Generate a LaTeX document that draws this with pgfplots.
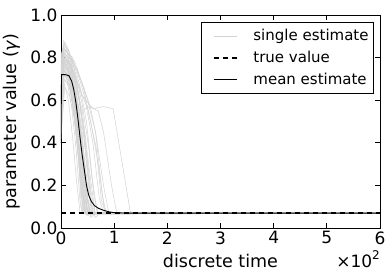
\documentclass[border=0pt]{standalone}
\usepackage{pgfplots}
\pgfplotsset{compat=1.18}
\usepackage{fontspec}
\setmainfont{DejaVu Sans}
\definecolor{lg}{RGB}{211,211,211}
\begin{document}
\begin{tikzpicture}[font=\fontsize{17.5bp}{20bp}\selectfont]
\begin{axis}[
  at={(0,0)}, anchor=south west,
  scale only axis, width=319bp, height=213bp,
  xmin=0, xmax=600, ymin=0, ymax=1,
  clip mode=individual,
  xtick={0,100,200,300,400,500,600},
  xticklabels={0,1,2,3,4,5,6},
  ytick={0,0.2,0.4,0.6,0.8,1.0},
  yticklabels={0.0,0.2,0.4,0.6,0.8,1.0},
  tick label style={font=\fontsize{17bp}{19bp}\selectfont},
  tick align=inside, major tick length=5bp,
  tick style={black, line width=0.8bp},
  axis line style={line width=0.9bp},
  xlabel={discrete time},
  ylabel={parameter value ({\itshape γ})},
  xlabel style={at={(axis description cs:0.5,0)}, anchor=base, yshift=-39bp},
  ylabel style={at={(axis description cs:-0.155,0.5)}, anchor=center},
  legend style={at={(1,1)}, anchor=north east, xshift=-6bp, yshift=-7bp,
    draw=black, line width=0.8bp, font=\fontsize{15bp}{17bp}\selectfont,
    inner xsep=3bp, inner ysep=5bp, row sep=5bp, cells={anchor=west}},
  legend image code/.code={\draw[#1] (0bp,0bp) -- (23bp,0bp); \path (-8bp,0bp) (37bp,0bp);},
  single/.style={color=lg, line width=0.5bp, forget plot},
]
\addplot[single] coordinates {(0,0.45)(4,0.78)(15,0.74)(25,0.62)(45,0.07)(52,0.06)(60,0.07)(600,0.07)};
\addplot[single] coordinates {(0,0.62)(5,0.85)(12,0.82)(22,0.70)(30,0.55)(42,0.25)(50,0.07)(600,0.07)};
\addplot[single] coordinates {(0,0.72)(3,0.80)(14,0.78)(28,0.60)(38,0.40)(48,0.10)(55,0.065)(600,0.07)};
\addplot[single] coordinates {(0,0.50)(6,0.70)(18,0.65)(30,0.45)(40,0.20)(46,0.07)(600,0.07)};
\addplot[single] coordinates {(0,0.80)(6,0.87)(16,0.80)(26,0.70)(36,0.50)(50,0.20)(58,0.07)(600,0.07)};
\addplot[single] coordinates {(0,0.58)(4,0.75)(10,0.72)(20,0.62)(32,0.35)(40,0.12)(44,0.07)(600,0.07)};
\addplot[single] coordinates {(0,0.68)(5,0.82)(20,0.75)(34,0.60)(44,0.40)(55,0.12)(62,0.06)(70,0.07)(600,0.07)};
\addplot[single] coordinates {(0,0.42)(7,0.66)(16,0.62)(28,0.48)(36,0.25)(42,0.07)(600,0.07)};
\addplot[single] coordinates {(0,0.75)(4,0.83)(12,0.80)(24,0.72)(40,0.55)(52,0.30)(64,0.07)(600,0.07)};
\addplot[single] coordinates {(0,0.55)(5,0.80)(18,0.76)(30,0.58)(42,0.30)(50,0.08)(56,0.06)(64,0.07)(600,0.07)};
\addplot[single] coordinates {(0,0.65)(4,0.77)(14,0.70)(24,0.55)(34,0.30)(38,0.10)(42,0.07)(600,0.07)};
\addplot[single] coordinates {(0,0.78)(5,0.84)(22,0.80)(36,0.66)(48,0.50)(58,0.25)(68,0.07)(600,0.07)};
\addplot[single] coordinates {(0,0.48)(6,0.72)(14,0.68)(26,0.52)(38,0.30)(46,0.09)(52,0.07)(600,0.07)};
\addplot[single] coordinates {(0,0.70)(5,0.86)(14,0.84)(28,0.72)(40,0.58)(52,0.38)(62,0.15)(70,0.07)(600,0.07)};
\addplot[single] coordinates {(0,0.60)(4,0.74)(16,0.70)(30,0.55)(46,0.20)(54,0.07)(600,0.07)};
\addplot[single] coordinates {(0,0.66)(5,0.80)(20,0.74)(40,0.62)(60,0.56)(80,0.57)(98,0.56)(112,0.35)(130,0.08)(135,0.07)(600,0.07)};
\addplot[single] coordinates {(0,0.74)(6,0.82)(22,0.78)(40,0.68)(55,0.57)(70,0.55)(80,0.45)(95,0.20)(105,0.07)(600,0.07)};
\addplot[single] coordinates {(0,0.70)(5,0.79)(30,0.75)(50,0.60)(65,0.45)(80,0.20)(90,0.07)(600,0.07)};
\addplot[single] coordinates {(0,0.52)(5,0.77)(20,0.71)(35,0.55)(55,0.57)(65,0.45)(78,0.15)(85,0.07)(600,0.07)};
\addplot[single] coordinates {(0,0.63)(4,0.81)(16,0.77)(26,0.68)(40,0.45)(48,0.18)(54,0.07)(600,0.07)};
\addplot[single] coordinates {(0,0.44)(6,0.68)(14,0.60)(22,0.42)(30,0.20)(36,0.07)(600,0.07)};
\addplot[single] coordinates {(0,0.77)(3,0.83)(18,0.79)(30,0.66)(44,0.45)(56,0.12)(64,0.05)(75,0.07)(600,0.07)};
\addplot[single] coordinates {(0,0.56)(5,0.76)(12,0.74)(26,0.60)(36,0.42)(44,0.15)(50,0.06)(58,0.07)(600,0.07)};
\addplot[single] coordinates {(0,0.69)(4,0.79)(20,0.72)(34,0.52)(46,0.24)(52,0.07)(600,0.07)};
\addplot[single] coordinates {(0,0.81)(5,0.86)(14,0.83)(30,0.74)(44,0.62)(60,0.40)(72,0.14)(80,0.07)(600,0.07)};
\addplot[single] coordinates {(0,0.46)(6,0.74)(20,0.69)(32,0.50)(44,0.22)(50,0.07)(600,0.07)};
\addplot[single] coordinates {(0,0.60)(4,0.73)(10,0.71)(20,0.57)(28,0.38)(36,0.12)(40,0.07)(600,0.07)};
\addplot[single] coordinates {(0,0.73)(5,0.84)(26,0.78)(42,0.66)(56,0.50)(70,0.30)(82,0.08)(88,0.07)(600,0.07)};
\addplot[single] coordinates {(0,0.66)(4,0.78)(14,0.75)(28,0.62)(38,0.44)(50,0.14)(58,0.07)(600,0.07)};
\addplot[single] coordinates {(0,0.71)(4,0.82)(10,0.79)(18,0.71)(26,0.58)(34,0.40)(42,0.16)(47,0.07)(600,0.07)};
\addplot[single] coordinates {(0,0.59)(5,0.83)(13,0.80)(22,0.66)(30,0.47)(38,0.22)(44,0.08)(50,0.065)(600,0.07)};
\addplot[single] coordinates {(0,0.76)(4,0.85)(11,0.83)(20,0.74)(30,0.60)(40,0.38)(50,0.12)(56,0.07)(600,0.07)};
\addplot[single] coordinates {(0,0.53)(6,0.78)(15,0.73)(24,0.60)(32,0.42)(40,0.18)(46,0.07)(600,0.07)};
\addplot[single] coordinates {(0,0.64)(5,0.79)(12,0.77)(21,0.67)(30,0.50)(39,0.28)(48,0.09)(54,0.07)(600,0.07)};
\addplot[single] coordinates {(0,0.79)(4,0.84)(16,0.81)(28,0.70)(38,0.55)(48,0.32)(58,0.11)(65,0.07)(600,0.07)};
\addplot[single] coordinates {(0,0.67)(4,0.80)(12,0.76)(20,0.64)(28,0.46)(35,0.25)(41,0.08)(46,0.07)(600,0.07)};
\addplot[single] coordinates {(0,0.72)(5,0.88)(12,0.85)(24,0.76)(34,0.62)(44,0.44)(56,0.18)(64,0.07)(600,0.07)};
\addplot[single] coordinates {(0,0.57)(5,0.75)(14,0.72)(24,0.58)(34,0.36)(42,0.13)(48,0.06)(55,0.07)(600,0.07)};
\addplot[single] coordinates {(0,0.74)(5,0.81)(18,0.77)(32,0.68)(50,0.56)(66,0.38)(76,0.13)(84,0.07)(600,0.07)};
\addplot[single] coordinates {(0,0.61)(4,0.77)(11,0.74)(19,0.63)(27,0.48)(36,0.26)(43,0.09)(50,0.07)(600,0.07)};
\addplot[color=lg, line width=0.5bp] coordinates {(0,0.50)(5,0.70)(24,0.64)(36,0.46)(48,0.18)(56,0.05)(66,0.07)(600,0.07)};
\addlegendentry{single estimate}
\addplot[black, line width=1.6bp, dash pattern=on 5bp off 4bp] coordinates {(0,0.07)(600,0.07)};
\addlegendentry{true value}
\addplot[black, line width=0.9bp] coordinates {(0,0.40)(1,0.72)(8,0.72)(15,0.715)(20,0.69)(24,0.65)(28,0.59)(32,0.51)(36,0.42)(40,0.34)(44,0.27)(48,0.20)(52,0.155)(57,0.125)(63,0.105)(70,0.093)(79,0.084)(90,0.076)(100,0.072)(120,0.07)(600,0.07)};
\addlegendentry{mean estimate}
\node[anchor=base east, inner sep=0pt, font=\fontsize{17bp}{19bp}\selectfont] at (axis description cs:1,0) [yshift=-39bp] {×10\raisebox{0.45em}{\fontsize{12bp}{14bp}\selectfont 2}};
\end{axis}
\pgfresetboundingbox
\path (-61bp,-49bp) rectangle (330bp,228bp);
\end{tikzpicture}
\end{document}
